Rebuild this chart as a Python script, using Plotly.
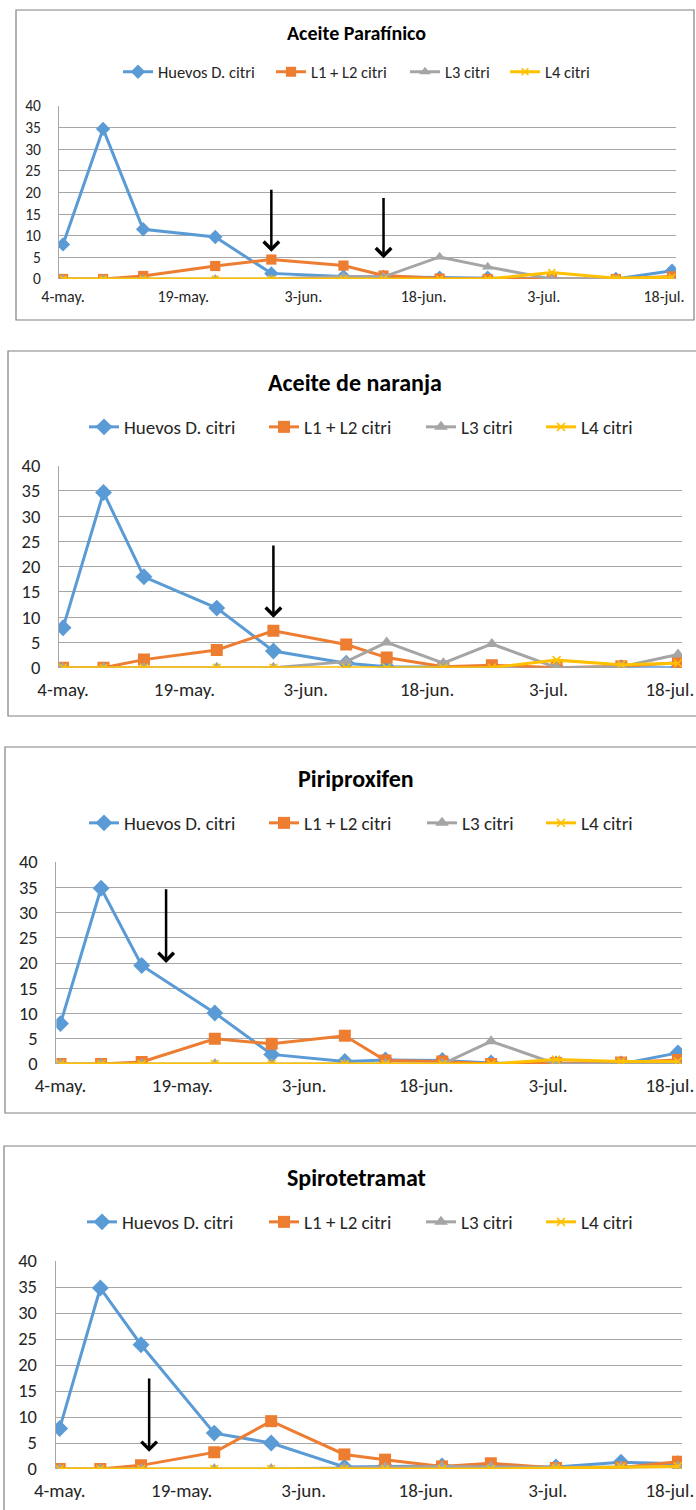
import plotly.graph_objects as go

W, H = 696, 1510

# ---------------- data ----------------
dates = ["2015-05-04", "2015-05-09", "2015-05-14", "2015-05-23", "2015-05-30", "2015-06-08",
         "2015-06-13", "2015-06-20", "2015-06-26", "2015-07-04", "2015-07-12", "2015-07-19"]

tick_dates = ["2015-05-04", "2015-05-19", "2015-06-03", "2015-06-18", "2015-07-03", "2015-07-18"]
tick_labels = ["4-may.", "19-may.", "3-jun.", "18-jun.", "3-jul.", "18-jul."]

series_names = ["Huevos D. citri", "L1 + L2 citri", "L3 citri", "L4 citri"]

panel_titles = ["Aceite Parafínico", "Aceite de naranja", "Piriproxifen", "Spirotetramat"]

# Aceite Parafínico
huevos_par = [8.0, 34.7, 11.5, 9.7, 1.3, 0.6, 0.5, 0.3, 0.3, 0.0, 0.0, 1.9]
l12_par = [0.0, 0.0, 0.7, 3.0, 4.5, 3.1, 0.8, 0.1, 0.0, 0.0, 0.0, 0.6]
l3_par = [0.0, 0.0, 0.0, 0.0, 0.0, 0.6, 0.5, 5.1, 2.8, 0.0, 0.0, 0.0]
l4_par = [0.0, 0.0, 0.0, 0.0, 0.0, 0.0, 0.0, 0.0, 0.0, 1.5, 0.2, 0.4]

# Aceite de naranja
huevos_nar = [7.9, 34.7, 18.0, 11.8, 3.3, 0.9, 0.2, 0.1, 0.0, 0.0, 0.0, 0.0]
l12_nar = [0.0, 0.0, 1.6, 3.5, 7.3, 4.6, 2.0, 0.2, 0.5, 0.0, 0.3, 1.0]
l3_nar = [0.0, 0.0, 0.0, 0.0, 0.0, 1.2, 5.0, 0.9, 4.7, 0.0, 0.2, 2.6]
l4_nar = [0.0, 0.0, 0.0, 0.0, 0.0, 0.0, 0.0, 0.0, 0.0, 1.5, 0.6, 0.9]

# Piriproxifen
huevos_pir = [8.0, 34.8, 19.5, 10.1, 1.9, 0.5, 0.8, 0.7, 0.2, 0.0, 0.0, 2.2]
l12_pir = [0.0, 0.0, 0.4, 5.0, 4.0, 5.6, 0.7, 0.5, 0.0, 0.2, 0.3, 0.8]
l3_pir = [0.0, 0.0, 0.0, 0.0, 0.0, 0.0, 0.0, 0.0, 4.5, 0.0, 0.0, 0.0]
l4_pir = [0.0, 0.0, 0.0, 0.0, 0.0, 0.0, 0.0, 0.0, 0.0, 0.9, 0.5, 0.5]

# Spirotetramat
huevos_spi = [7.8, 34.8, 23.9, 6.9, 5.0, 0.4, 0.5, 0.6, 0.5, 0.4, 1.3, 1.0]
l12_spi = [0.0, 0.0, 0.7, 3.2, 9.2, 2.8, 1.8, 0.5, 1.1, 0.2, 0.3, 1.4]
l3_spi = [0.0, 0.0, 0.0, 0.0, 0.0, 0.2, 0.3, 0.5, 0.4, 0.3, 0.4, 0.5]
l4_spi = [0.0, 0.0, 0.0, 0.0, 0.0, 0.0, 0.0, 0.0, 0.0, 0.2, 0.4, 0.5]

# treatment arrows: (date, arrow tip value, arrow tail value)
arrows_par = [("2015-05-30", 6.3, 21.0), ("2015-06-13", 4.8, 19.1)]
arrows_nar = [("2015-05-30", 9.9, 24.5)]
arrows_pir = [("2015-05-17", 20.0, 34.9)]
arrows_spi = [("2015-05-15", 3.3, 17.7)]

panels_data = [
    [huevos_par, l12_par, l3_par, l4_par],
    [huevos_nar, l12_nar, l3_nar, l4_nar],
    [huevos_pir, l12_pir, l3_pir, l4_pir],
    [huevos_spi, l12_spi, l3_spi, l4_spi],
]
panels_arrows = [arrows_par, arrows_nar, arrows_pir, arrows_spi]

# ---------------- styling / layout ----------------
colors = ["#5B9BD5", "#ED7D31", "#A5A5A5", "#FFC000"]
symbols = ["diamond", "square", "triangle-up", "x-thin"]
msizes = [13, 12, 12, 8]

FONT = "Carlito, Lato, 'Liberation Sans', sans-serif"

def px_x(p):
    return p / W

def px_y(p):
    return 1 - p / H

# per panel pixel geometry
geo = [
    dict(box=(16, 10, 694, 320), plot_x=(59, 676), plot_y=(279, 106), title_y=33, title_x=356,
         leg_y=72, leg_text=[160, 313, 447, 547], tfont=20, lfont=16.5, kfont=16, xstand=6, msc=0.85),
    dict(box=(8, 351, 699, 716), plot_x=(59, 682), plot_y=(667.7, 465.7), title_y=382, title_x=355,
         leg_y=427, leg_text=[126, 306, 463, 583], tfont=24, lfont=19, kfont=19, xstand=8, msc=1.0),
    dict(box=(5, 747, 699, 1113), plot_x=(56.4, 682), plot_y=(1064, 862), title_y=778, title_x=356,
         leg_y=823, leg_text=[126, 306, 464, 583], tfont=24, lfont=19, kfont=19, xstand=8, msc=1.0),
    dict(box=(4, 1146, 699, 1515), plot_x=(55.6, 682), plot_y=(1469, 1261), title_y=1177, title_x=356,
         leg_y=1222, leg_text=[124, 306, 463, 583], tfont=24, lfont=19, kfont=19, xstand=8, msc=1.0),
]

fig = go.Figure()
layout = dict(
    template="none",
    width=W, height=H, margin=dict(l=0, r=0, t=0, b=0, autoexpand=False),
    paper_bgcolor="white", plot_bgcolor="white",
    font=dict(family=FONT, color="#262626"),
    showlegend=True,
)
shapes = []
annotations = []

leg_idx = 0
for i, (g, data, arrows, title) in enumerate(zip(geo, panels_data, panels_arrows, panel_titles)):
    n = i + 1
    xa = "x" if n == 1 else f"x{n}"
    ya = "y" if n == 1 else f"y{n}"
    xkey = "xaxis" if n == 1 else f"xaxis{n}"
    ykey = "yaxis" if n == 1 else f"yaxis{n}"

    for s in range(4):
        leg_idx += 1
        lname = "legend" if leg_idx == 1 else f"legend{leg_idx}"
        fig.add_trace(go.Scatter(
            x=dates, y=data[s], name=series_names[s], mode="lines+markers",
            line=dict(color=colors[s], width=3),
            marker=dict(symbol=symbols[s], size=msizes[s] * g["msc"], color=colors[s],
                        line=dict(color=colors[s], width=1.5 if s == 3 else 0)),
            xaxis=xa, yaxis=ya, legend=lname, hoverinfo="x+y+name",
        ))
        layout[lname] = dict(
            x=px_x(g["leg_text"][s] - 42), y=px_y(g["leg_y"]), xanchor="left", yanchor="middle",
            orientation="h", bgcolor="rgba(0,0,0,0)", borderwidth=0,
            font=dict(size=g["lfont"], family=FONT, color="#262626"),
            itemclick=False, itemdoubleclick=False,
        )

    layout[xkey] = dict(
        domain=[px_x(g["plot_x"][0]), px_x(g["plot_x"][1])],
        anchor=ya, type="date", automargin=False,
        range=["2015-05-03 12:00", "2015-07-19 12:00"],
        tickvals=tick_dates, ticktext=tick_labels,
        showgrid=False, zeroline=False, showline=False, ticks="",
        ticklabelstandoff=g["xstand"], ticklabeloverflow="allow",
        tickfont=dict(size=g["kfont"], family=FONT, color="#262626"),
    )
    layout[ykey] = dict(
        domain=[px_y(g["plot_y"][0]), px_y(g["plot_y"][1])],
        anchor=xa, range=[0, 40], dtick=5, tick0=0, automargin=False,
        showgrid=True, gridcolor="#A6A6A6", gridwidth=1,
        zeroline=False, showline=True, linecolor="#A6A6A6", linewidth=1,
        ticks="", ticklabelstandoff=14, ticklabeloverflow="allow",
        tickfont=dict(size=g["kfont"] - 0.5, family=FONT, color="#262626"),
    )

    bx0, by0, bx1, by1 = g["box"]
    shapes.append(dict(type="rect", xref="paper", yref="paper",
                       x0=px_x(bx0), x1=px_x(bx1), y0=px_y(by1), y1=px_y(by0),
                       line=dict(color="#808080", width=1.2), fillcolor="rgba(0,0,0,0)", layer="below"))

    annotations.append(dict(
        text=f"<b>{title}</b>", xref="paper", yref="paper",
        x=px_x(g["title_x"]), y=px_y(g["title_y"]), xanchor="center", yanchor="middle",
        showarrow=False, font=dict(size=g["tfont"], family=FONT, color="#000000"),
    ))

    for (d, tip, tail) in arrows:
        annotations.append(dict(
            x=d, y=tip, ax=d, ay=tail, xref=xa, yref=ya, axref=xa, ayref=ya,
            showarrow=True, arrowhead=4, arrowsize=1.2, arrowwidth=2.5, arrowcolor="#000000",
            text="", standoff=0,
        ))

layout["shapes"] = shapes
layout["annotations"] = annotations
fig.update_layout(**layout)

fig.write_html("out.html", config={"displayModeBar": False})
